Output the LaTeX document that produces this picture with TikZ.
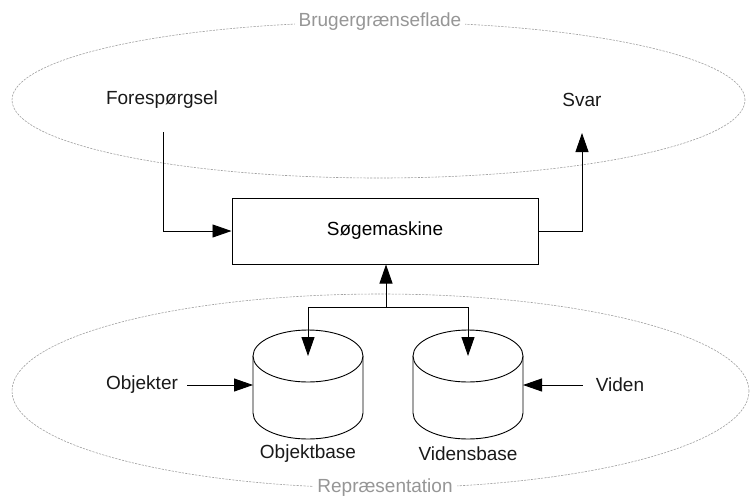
\documentclass[tikz,border=0pt]{standalone}
\usepackage{fontspec}
\setmainfont{Liberation Sans}
\usetikzlibrary{arrows.meta}
\definecolor{lblgray}{RGB}{150,150,150}
\definecolor{dashgray}{RGB}{160,160,160}
\tikzset{
  txt/.style={font=\fontsize{19}{23}\selectfont, inner sep=0pt, text=black!90},
  grp/.style={font=\fontsize{19}{23}\selectfont, inner sep=4pt, text=lblgray, fill=white},
  region/.style={draw=dashgray, line width=0.6pt, dash pattern=on 2.2pt off 1.2pt},
  arr/.style={line width=0.9pt, -{Triangle[length=19pt,width=13pt]}},
  ln/.style={line width=0.9pt},
  boxst/.style={draw, line width=1pt, minimum width=306pt, minimum height=66pt, inner sep=0pt, font=\fontsize{19}{23}\selectfont},
  cyl/.style={draw, line width=0.9pt, fill=white}
}
\begin{document}
\begin{tikzpicture}[x=1pt,y=-1pt]
\useasboundingbox (0,0) rectangle (751,498);
% regions
\draw[region] (378.5,100) ellipse [x radius=366.5pt, y radius=78pt];
\draw[region] (380.5,391) ellipse [x radius=368.5pt, y radius=97pt];
\node[grp] (ui) at (380,22) {Brugergrænseflade};
\node[grp] (rep) at (385,488) {Repræsentation};
% texts
\node[txt] (q) at (162,100) {Forespørgsel};
\node[txt] (a) at (582,100) {Svar};
\node[boxst] (s) at (385,231) {Søgemaskine};
\coordinate (qs) at (163,132);
\coordinate (ae) at (582,133);
% cylinders
\foreach \cx in {308,468}{
  \path[cyl] (\cx-55,356) -- (\cx-55,413) arc[start angle=180, end angle=360, x radius=55pt, y radius=26pt] -- (\cx+55,356);
  \draw[cyl] (\cx,356) ellipse [x radius=55pt, y radius=26pt];
}
\coordinate (ob) at (308,356);
\coordinate (vb) at (468,356);
\coordinate (obl) at (253,385);
\coordinate (vbr) at (523,385);
\node[txt] (obt) at (308,454) {Objektbase};
\node[txt] (vbt) at (468,454) {Vidensbase};
\node[txt] (obj) at (142,385) {Objekter};
\node[txt] (vid) at (620,385) {Viden};
% connectors
\draw[arr] (qs) |- (s.west);
\draw[arr] (s.east) -| (ae);
\coordinate (br) at (386,307);
\coordinate (brl) at (308,307);
\coordinate (brr) at (468,307);
\draw[arr] (br) -- (s.south -| br);
\draw[ln] (brl) -- (brr);
\draw[arr] (brl) -- (ob);
\draw[arr] (brr) -- (vb);
\draw[arr] (obj.east) ++(9,0) coordinate (obe) (obe) -- (obl);
\draw[arr] (vid.west) ++(-13,0) coordinate (vie) (vie) -- (vbr);
\end{tikzpicture}
\end{document}
